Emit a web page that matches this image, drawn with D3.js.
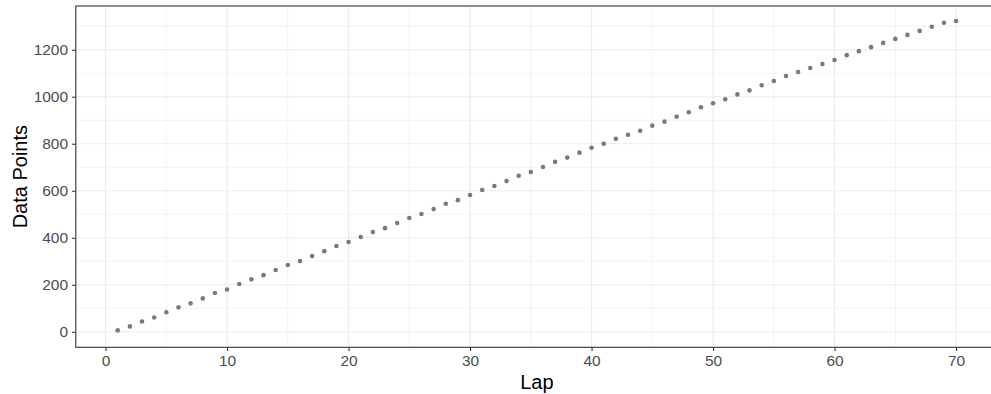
<!DOCTYPE html>
<html>
<head>
<meta charset="utf-8">
<script src="https://cdn.jsdelivr.net/npm/d3@7"></script>
<style>
  html, body { margin: 0; padding: 0; background: #fff; overflow: hidden; }
  svg { display: block; }
  text { font-family: "Liberation Sans", Arial, sans-serif; }
</style>
</head>
<body>
<script>
// Cumulative data points recorded by lap
const laps = d3.range(1, 71);
const dataPoints = [
  6, 23, 44, 61, 83, 104, 121, 142, 165, 180,
  203, 223, 241, 263, 284, 301, 322, 343, 365, 382,
  403, 424, 441, 463, 484, 501, 522, 545, 560, 582,
  603, 620, 641, 664, 680, 701, 723, 741, 762, 783,
  800, 821, 838, 855, 877, 894, 915, 934, 955, 972,
  989, 1010, 1027, 1049, 1067, 1088, 1105, 1122, 1139, 1156,
  1177, 1194, 1211, 1229, 1246, 1263, 1280, 1298, 1315, 1322
];
const xTicks = [0, 10, 20, 30, 40, 50, 60, 70];
const xMinor = [5, 15, 25, 35, 45, 55, 65];
const yTicks = [0, 200, 400, 600, 800, 1000, 1200];
const yMinor = [100, 300, 500, 700, 900, 1100, 1300];

const W = 991, H = 394;
const panel = { left: 75.8, top: 6, right: 998, bottom: 347.3 };

const svg = d3.select("body").append("svg")
  .attr("width", W).attr("height", H);

// ggplot-style expanded domains
const xPad = 0.05 * (d3.max(laps) - d3.min(laps));
const x = d3.scaleLinear()
  .domain([d3.min(laps) - xPad, d3.max(laps) + xPad])
  .range([panel.left, panel.right]);
const y = d3.scaleLinear()
  .domain([-66, 1386])
  .range([panel.bottom, panel.top]);

svg.append("rect").attr("width", W).attr("height", H).attr("fill", "#fff");

const grid = svg.append("g");
// minor grid
grid.selectAll(".xminor").data(xMinor).join("line")
  .attr("x1", d => x(d)).attr("x2", d => x(d))
  .attr("y1", panel.top).attr("y2", panel.bottom)
  .attr("stroke", "#EBEBEB").attr("stroke-width", 0.6);
grid.selectAll(".yminor").data(yMinor).join("line")
  .attr("y1", d => y(d)).attr("y2", d => y(d))
  .attr("x1", panel.left).attr("x2", panel.right)
  .attr("stroke", "#EBEBEB").attr("stroke-width", 0.6);
// major grid
grid.selectAll(".xmajor").data(xTicks).join("line")
  .attr("x1", d => x(d)).attr("x2", d => x(d))
  .attr("y1", panel.top).attr("y2", panel.bottom)
  .attr("stroke", "#EBEBEB").attr("stroke-width", 1.1);
grid.selectAll(".ymajor").data(yTicks).join("line")
  .attr("y1", d => y(d)).attr("y2", d => y(d))
  .attr("x1", panel.left).attr("x2", panel.right)
  .attr("stroke", "#EBEBEB").attr("stroke-width", 1.1);

// points
svg.append("g").selectAll("circle")
  .data(laps.map((l, i) => ({ lap: l, v: dataPoints[i] })))
  .join("circle")
  .attr("cx", d => x(d.lap))
  .attr("cy", d => y(d.v))
  .attr("r", 2.3)
  .attr("fill", "#7A7A7A");

// panel border
svg.append("rect")
  .attr("x", panel.left).attr("y", panel.top)
  .attr("width", panel.right - panel.left)
  .attr("height", panel.bottom - panel.top)
  .attr("fill", "none").attr("stroke", "#333333").attr("stroke-width", 1.1);

// axes
const xAxis = svg.append("g")
  .attr("transform", `translate(0,${panel.bottom})`)
  .call(d3.axisBottom(x).tickValues(xTicks).tickFormat(d3.format("d"))
    .tickSize(3.7).tickPadding(4));
const yAxis = svg.append("g")
  .attr("transform", `translate(${panel.left},0)`)
  .call(d3.axisLeft(y).tickValues(yTicks).tickFormat(d3.format("d"))
    .tickSize(3.7).tickPadding(4));
[xAxis, yAxis].forEach(g => {
  g.select(".domain").remove();
  g.selectAll(".tick line").attr("stroke", "#333333").attr("stroke-width", 1.1);
  g.selectAll(".tick text").attr("fill", "#4D4D4D")
    .style("font-size", "15.5px").style("font-family", "'Liberation Sans', Arial, sans-serif");
});

// axis titles
svg.append("text")
  .attr("x", (panel.left + panel.right) / 2)
  .attr("y", 389)
  .attr("text-anchor", "middle")
  .attr("fill", "#000")
  .style("font-size", "20px")
  .text("Lap");
svg.append("text")
  .attr("transform", `translate(27,${(panel.top + panel.bottom) / 2}) rotate(-90)`)
  .attr("text-anchor", "middle")
  .attr("fill", "#000")
  .style("font-size", "20px")
  .text("Data Points");
</script>
</body>
</html>
